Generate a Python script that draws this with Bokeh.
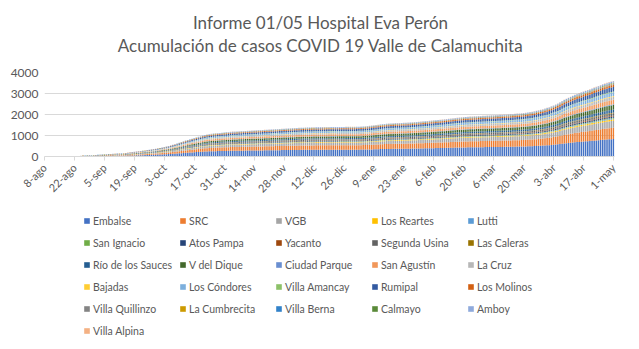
import math
from bokeh.plotting import figure
from bokeh.layouts import column
from bokeh.models import (ColumnDataSource, Legend, LegendItem, FixedTicker, Range1d)
from bokeh.core.properties import value
from bokeh.embed import file_html
from bokeh.resources import INLINE

# ---------------- data ----------------
titulo = ["Informe 01/05 Hospital Eva Perón",
          "Acumulación de casos COVID 19 Valle de Calamuchita"]

tick_labels = ["8-ago", "22-ago", "5-sep", "19-sep", "3-oct", "17-oct", "31-oct",
               "14-nov", "28-nov", "12-dic", "26-dic", "9-ene", "23-ene", "6-feb",
               "20-feb", "6-mar", "20-mar", "3-abr", "17-abr", "1-may"]

localidades = ["Embalse", "SRC", "VGB", "Los Reartes", "Lutti",
               "San Ignacio", "Atos Pampa", "Yacanto", "Segunda Usina", "Las Caleras",
               "Río de los Sauces", "V del Dique", "Ciudad Parque", "San Agustín", "La Cruz",
               "Bajadas", "Los Cóndores", "Villa Amancay", "Rumipal", "Los Molinos",
               "Villa Quillinzo", "La Cumbrecita", "Villa Berna", "Calmayo", "Amboy",
               "Villa Alpina"]

colores = ["#4472C4", "#ED7D31", "#A5A5A5", "#FFC000", "#5B9BD5",
           "#70AD47", "#264478", "#9E480E", "#636363", "#997300",
           "#255E91", "#43682B", "#698ED0", "#F1975A", "#B7B7B7",
           "#FFCD33", "#7CAFDD", "#8CC168", "#335AA1", "#D26012",
           "#848484", "#CC9A00", "#3282C9", "#5A8A39", "#8FAADC",
           "#F4B183"]

# cases per locality at 1-may (estimated from the last bar)
casos_1may = [830, 540, 330, 70, 36,
              36, 70, 36, 108, 36,
              144, 216, 36, 216, 144,
              36, 180, 36, 216, 108,
              36, 18, 18, 18, 72,
              18]

# total accumulated cases per day, 8-ago-2020 .. 1-may-2021
total = [
    0, 0, 0, 0, 0, 0, 0, 0, 0, 0, 0, 0, 0, 0,
    0, 0, 0, 38, 45, 50, 55, 60, 64, 68, 74, 80, 90, 98,
    104, 110, 116, 122, 128, 134, 140, 146, 152, 160, 170, 182, 195, 210,
    225, 238, 250, 262, 275, 290, 305, 320, 338, 355, 372, 390, 410, 430,
    455, 480, 505, 530, 560, 590, 620, 655, 690, 725, 760, 790, 820, 850,
    880, 910, 940, 970, 1000, 1025, 1045, 1065, 1080, 1095, 1105, 1115, 1125, 1135,
    1145, 1155, 1165, 1175, 1185, 1190, 1195, 1200, 1205, 1212, 1218, 1224, 1230, 1236,
    1242, 1248, 1254, 1260, 1266, 1272, 1278, 1284, 1290, 1296, 1302, 1308, 1314, 1320,
    1326, 1332, 1338, 1344, 1350, 1355, 1360, 1365, 1370, 1374, 1378, 1382, 1386, 1390,
    1392, 1394, 1396, 1398, 1400, 1402, 1404, 1405, 1406, 1407, 1408, 1409, 1410, 1410,
    1410, 1411, 1412, 1413, 1414, 1416, 1418, 1420, 1424, 1430, 1438, 1448, 1460, 1472,
    1485, 1498, 1512, 1526, 1540, 1552, 1562, 1570, 1576, 1582, 1588, 1592, 1596, 1600,
    1605, 1610, 1616, 1622, 1630, 1638, 1646, 1655, 1664, 1673, 1682, 1692, 1702, 1712,
    1722, 1732, 1742, 1752, 1764, 1776, 1788, 1800, 1812, 1824, 1836, 1848, 1860, 1870,
    1878, 1886, 1893, 1900, 1906, 1912, 1918, 1924, 1930, 1936, 1942, 1948, 1954, 1960,
    1966, 1972, 1978, 1984, 1990, 1996, 2002, 2010, 2018, 2026, 2034, 2042, 2050, 2060,
    2072, 2086, 2100, 2116, 2134, 2154, 2176, 2200, 2226, 2254, 2284, 2316, 2350, 2390,
    2430, 2475, 2525, 2580, 2640, 2700, 2750, 2800, 2850, 2895, 2940, 2980, 3020, 3060,
    3095, 3130, 3165, 3200, 3240, 3280, 3320, 3360, 3400, 3440, 3475, 3510, 3545, 3575, 3600,
]

# ---------------- build ----------------
dias = list(range(len(total)))
suma = float(sum(casos_1may))
data = {"dia": dias}
keys = []
for i, c in enumerate(casos_1may):
    k = f"s{i}"
    keys.append(k)
    data[k] = [t * c / suma for t in total]
source = ColumnDataSource(data)

FONT = "Lato"
GREY = "#595959"
LEFT, RIGHT = 44, 25   # all three panels share the same frame edges

# ---------------- title panel ----------------
p0 = figure(width=639, height=60, output_backend="svg", toolbar_location=None,
            x_range=Range1d(LEFT, 639 - RIGHT), y_range=Range1d(0, 60),
            min_border_left=LEFT, min_border_right=RIGHT,
            min_border_top=0, min_border_bottom=0)
p0.axis.visible = False
p0.grid.visible = False
p0.outline_line_color = None
p0.text(x=[320, 320], y=[38, 15], text=titulo, text_align="center",
        text_baseline="middle", text_font=value(FONT), text_font_size="17px",
        text_color=GREY)

# ---------------- chart ----------------
p = figure(width=639, height=150, output_backend="svg", toolbar_location=None,
           x_range=Range1d(0, 266.5), y_range=Range1d(0, 4000),
           min_border_left=LEFT, min_border_right=RIGHT, min_border_top=12,
           min_border_bottom=54)

p.vbar_stack(keys, x="dia", width=0.7, source=source, color=colores, line_width=0)

ticks = [14 * i for i in range(len(tick_labels))]
p.xaxis.ticker = FixedTicker(ticks=ticks)
p.xaxis.major_label_overrides = {t: lab for t, lab in zip(ticks, tick_labels)}
p.xaxis.major_label_orientation = math.pi / 4
p.xaxis.major_label_text_font = FONT
p.xaxis.major_label_text_font_size = "11px"
p.xaxis.major_label_text_color = GREY
p.xaxis.axis_line_color = "#d9d9d9"
p.xaxis.major_tick_line_color = "#d9d9d9"
p.xaxis.major_tick_out = 4
p.xaxis.major_tick_in = 0
p.xaxis.minor_tick_line_color = None

p.yaxis.ticker = FixedTicker(ticks=[0, 1000, 2000, 3000, 4000])
p.yaxis.major_label_text_font = FONT
p.yaxis.major_label_text_font_size = "12px"
p.yaxis.major_label_text_color = GREY
p.yaxis.major_label_standoff = 6
p.yaxis.axis_line_color = None
p.yaxis.major_tick_line_color = None
p.yaxis.major_tick_out = 0
p.yaxis.major_tick_in = 0
p.yaxis.minor_tick_line_color = None

p.xgrid.grid_line_color = None
p.ygrid.grid_line_color = "#d9d9d9"
p.outline_line_color = None

# ---------------- legend (separate panel below) ----------------
p2 = figure(width=639, height=139, output_backend="svg", toolbar_location=None,
            x_range=Range1d(0, 1), y_range=Range1d(0, 1),
            min_border_left=LEFT, min_border_right=RIGHT, min_border_top=2,
            min_border_bottom=0)
p2.axis.visible = False
p2.grid.visible = False
p2.outline_line_color = None

items = []
for n, c in zip(localidades, colores):
    # swatch renderer placed outside the visible range; only its legend glyph shows
    r = p2.rect(x=[10], y=[10], width=1, height=1, fill_color=c, line_color=None)
    items.append(LegendItem(label=n, renderers=[r]))

legend = Legend(items=items, orientation="horizontal", ncols=5, location=(39, 10),
                label_text_font=FONT, label_text_font_size="10.5px",
                label_text_color=GREY, glyph_width=7, glyph_height=7,
                label_standoff=3, label_width=81, label_height=17, spacing=5,
                border_line_color=None, background_fill_alpha=0,
                margin=0, padding=0)
p2.add_layout(legend, "center")

open("out.html", "w").write(file_html(column(p0, p, p2), INLINE))
